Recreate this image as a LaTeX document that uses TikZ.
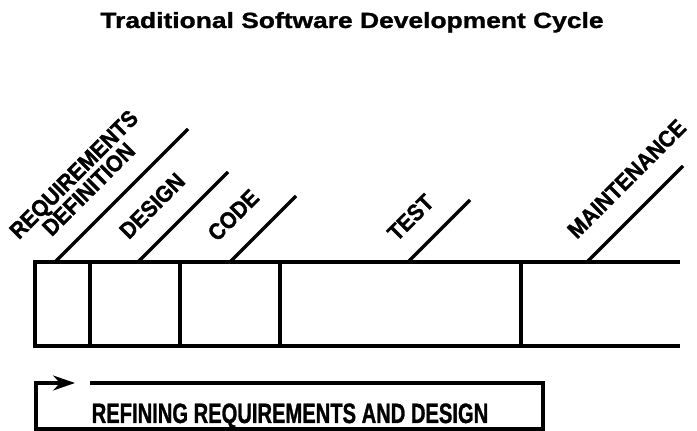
\documentclass[tikz,border=0pt]{standalone}
\usepackage{fontspec}
\setmainfont{Liberation Sans}
\newfontfamily\titlefont[FakeStretch=1.2,FakeBold=1.2]{Liberation Sans}
\newfontfamily\phasefont[FakeStretch=0.92,FakeBold=1.4]{Liberation Sans}
\newfontfamily\boxfont[FakeStretch=0.72,FakeBold=1]{Liberation Sans}
\usetikzlibrary{arrows.meta}
\begin{document}
\begin{tikzpicture}[x=1pt,y=1pt,
  bar/.style={line width=4pt},
  slant/.style={line width=3.2pt},
  phase/.style={sloped,inner sep=0pt,align=center,font=\phasefont\bfseries\fontsize{23}{21}\selectfont}]
\useasboundingbox (0,0) rectangle (697,431);
\node[anchor=base,font=\titlefont\bfseries\fontsize{22}{24}\selectfont] (title) at (352,403) {Traditional Software Development Cycle};
% time line
\draw[bar] (680,169) -- (35,169) -- (35,85) -- (680,85);
\draw[slant] (90,85) -- (90,169);
\draw[slant] (180,85) -- (180,169);
\draw[slant] (280,85) -- (280,169);
\draw[slant] (521,85) -- (521,169);
% phase markers
\draw[slant] (55,169) -- ++(133,133) node[phase,pos=0.40,above=18pt] (reqdef) {REQUIREMENTS\\DEFINITION};
\draw[slant] (138,169) -- ++(90,90) node[phase,pos=0.39,above=20pt] (design) {DESIGN};
\draw[slant] (230,169) -- ++(66,66) node[phase,pos=0.38,above=21pt] (code) {CODE};
\draw[slant] (408,169) -- ++(62,62) node[phase,pos=0.38,above=20pt] (test) {TEST};
\draw[slant] (587,169) -- ++(96,96) node[phase,pos=0.64,above=21pt] (maint) {MAINTENANCE};
% refining box
\draw[slant,-{Stealth[length=22pt,width=15pt]}] (90,48) -- (543,48) -- (543,2) -- (36,2) -- (36,48) -- (75,48);
\node[anchor=base,font=\boxfont\bfseries\fontsize{28}{30}\selectfont] (refine) at (290,8) {REFINING REQUIREMENTS AND DESIGN};
\end{tikzpicture}
\end{document}
